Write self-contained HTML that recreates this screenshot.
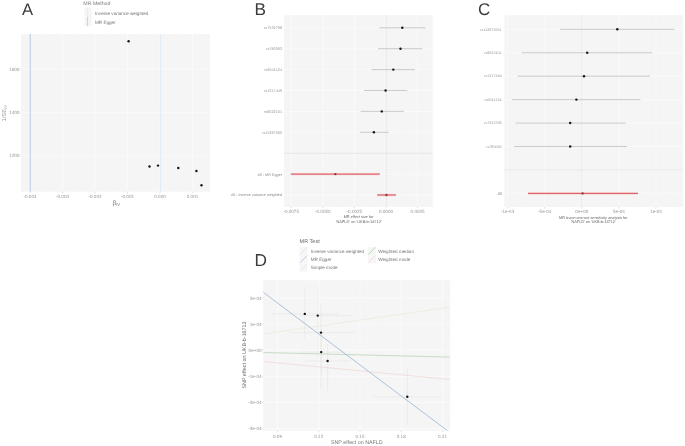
<!DOCTYPE html>
<html><head><meta charset="utf-8"><style>
html,body{margin:0;padding:0;background:#fff;}
body{width:685px;height:446px;overflow:hidden;}
svg{display:block;font-family:"Liberation Sans", sans-serif;text-rendering:geometricPrecision;filter:blur(0.5px);}
</style></head><body>
<svg width="685" height="446" viewBox="0 0 685 446">
<rect width="685" height="446" fill="#fff"/>
<text x="21.9" y="14.8" font-size="16.6" fill="#3C3C3C" text-anchor="start" >A</text>
<text x="83.3" y="5.1" font-size="5.26" fill="#787878" text-anchor="start" >MR Method</text>
<rect x="84.4" y="7.6" width="7.3" height="9.2" fill="#F5F5F5"/>
<rect x="84.4" y="16.9" width="7.3" height="9.2" fill="#F5F5F5"/>
<line x1="87.5" y1="7.6" x2="87.5" y2="16.8" stroke="#E2E9F0" stroke-width="0.6" />
<line x1="87.5" y1="16.9" x2="87.5" y2="26.1" stroke="#A7BDD6" stroke-width="0.6" />
<text x="95.0" y="15.0" font-size="4.6" fill="#777777" text-anchor="start" >Inverse variance weighted</text>
<text x="95.0" y="23.6" font-size="4.6" fill="#777777" text-anchor="start" >MR Egger</text>
<rect x="21.0" y="34.0" width="189.0" height="157.7" fill="#F5F5F5"/>
<line x1="46.25" y1="34.0" x2="46.25" y2="191.7" stroke="#F7F7F7" stroke-width="0.5" />
<line x1="78.75" y1="34.0" x2="78.75" y2="191.7" stroke="#F7F7F7" stroke-width="0.5" />
<line x1="111.25" y1="34.0" x2="111.25" y2="191.7" stroke="#F7F7F7" stroke-width="0.5" />
<line x1="143.75" y1="34.0" x2="143.75" y2="191.7" stroke="#F7F7F7" stroke-width="0.5" />
<line x1="176.25" y1="34.0" x2="176.25" y2="191.7" stroke="#F7F7F7" stroke-width="0.5" />
<line x1="21.0" y1="176.875" x2="210.0" y2="176.875" stroke="#F7F7F7" stroke-width="0.5" />
<line x1="21.0" y1="133.725" x2="210.0" y2="133.725" stroke="#F7F7F7" stroke-width="0.5" />
<line x1="21.0" y1="90.575" x2="210.0" y2="90.575" stroke="#F7F7F7" stroke-width="0.5" />
<line x1="21.0" y1="47.425" x2="210.0" y2="47.425" stroke="#F7F7F7" stroke-width="0.5" />
<line x1="30.0" y1="34.0" x2="30.0" y2="191.7" stroke="#FAFAFA" stroke-width="0.9" />
<line x1="62.5" y1="34.0" x2="62.5" y2="191.7" stroke="#FAFAFA" stroke-width="0.9" />
<line x1="95.0" y1="34.0" x2="95.0" y2="191.7" stroke="#FAFAFA" stroke-width="0.9" />
<line x1="127.5" y1="34.0" x2="127.5" y2="191.7" stroke="#FAFAFA" stroke-width="0.9" />
<line x1="160.0" y1="34.0" x2="160.0" y2="191.7" stroke="#FAFAFA" stroke-width="0.9" />
<line x1="192.5" y1="34.0" x2="192.5" y2="191.7" stroke="#FAFAFA" stroke-width="0.9" />
<line x1="21.0" y1="155.3" x2="210.0" y2="155.3" stroke="#FAFAFA" stroke-width="0.9" />
<line x1="21.0" y1="112.15" x2="210.0" y2="112.15" stroke="#FAFAFA" stroke-width="0.9" />
<line x1="21.0" y1="69.0" x2="210.0" y2="69.0" stroke="#FAFAFA" stroke-width="0.9" />
<line x1="160.6" y1="34.0" x2="160.6" y2="191.7" stroke="#DCE8F3" stroke-width="0.8" />
<line x1="30.2" y1="34.0" x2="30.2" y2="191.7" stroke="#A4C0DE" stroke-width="0.8" />
<circle cx="128.6" cy="41.3" r="1.2" fill="#151515"/>
<circle cx="149.5" cy="166.5" r="1.2" fill="#151515"/>
<circle cx="158.0" cy="165.6" r="1.2" fill="#151515"/>
<circle cx="178.3" cy="168.0" r="1.2" fill="#151515"/>
<circle cx="196.4" cy="171.0" r="1.2" fill="#151515"/>
<circle cx="201.5" cy="185.2" r="1.2" fill="#151515"/>
<line x1="30.0" y1="191.7" x2="30.0" y2="193.1" stroke="#AAAAAA" stroke-width="0.4" />
<text x="30.0" y="198.4" font-size="4.6" fill="#9A9A9A" text-anchor="middle" >-0.004</text>
<line x1="62.5" y1="191.7" x2="62.5" y2="193.1" stroke="#AAAAAA" stroke-width="0.4" />
<text x="62.5" y="198.4" font-size="4.6" fill="#9A9A9A" text-anchor="middle" >-0.003</text>
<line x1="95.0" y1="191.7" x2="95.0" y2="193.1" stroke="#AAAAAA" stroke-width="0.4" />
<text x="95.0" y="198.4" font-size="4.6" fill="#9A9A9A" text-anchor="middle" >-0.002</text>
<line x1="127.5" y1="191.7" x2="127.5" y2="193.1" stroke="#AAAAAA" stroke-width="0.4" />
<text x="127.5" y="198.4" font-size="4.6" fill="#9A9A9A" text-anchor="middle" >-0.001</text>
<line x1="160.0" y1="191.7" x2="160.0" y2="193.1" stroke="#AAAAAA" stroke-width="0.4" />
<text x="160.0" y="198.4" font-size="4.6" fill="#9A9A9A" text-anchor="middle" >0.000</text>
<line x1="192.5" y1="191.7" x2="192.5" y2="193.1" stroke="#AAAAAA" stroke-width="0.4" />
<text x="192.5" y="198.4" font-size="4.6" fill="#9A9A9A" text-anchor="middle" >0.001</text>
<line x1="19.6" y1="155.3" x2="21.0" y2="155.3" stroke="#AAAAAA" stroke-width="0.4" />
<text x="19.4" y="156.9" font-size="4.6" fill="#9A9A9A" text-anchor="end" >1200</text>
<line x1="19.6" y1="112.15" x2="21.0" y2="112.15" stroke="#AAAAAA" stroke-width="0.4" />
<text x="19.4" y="113.75" font-size="4.6" fill="#9A9A9A" text-anchor="end" >1400</text>
<line x1="19.6" y1="69.0" x2="21.0" y2="69.0" stroke="#AAAAAA" stroke-width="0.4" />
<text x="19.4" y="70.6" font-size="4.6" fill="#9A9A9A" text-anchor="end" >1600</text>
<text x="112.4" y="204.7" font-size="6.5" fill="#777777" text-anchor="start" >β<tspan font-size="4.3" dy="1.2">IV</tspan></text>
<text transform="translate(6.1,113.3) rotate(-90)" font-size="5.8" fill="#9A9A9A" text-anchor="middle">1/SE<tspan font-size="4" dy="1.1">IV</tspan></text>
<text x="254.4" y="15.0" font-size="17.2" fill="#3C3C3C" text-anchor="start" >B</text>
<rect x="284.0" y="15.2" width="148.7" height="191.70000000000002" fill="#F5F5F5"/>
<line x1="307.0" y1="15.2" x2="307.0" y2="206.9" stroke="#F7F7F7" stroke-width="0.5" />
<line x1="338.6" y1="15.2" x2="338.6" y2="206.9" stroke="#F7F7F7" stroke-width="0.5" />
<line x1="370.2" y1="15.2" x2="370.2" y2="206.9" stroke="#F7F7F7" stroke-width="0.5" />
<line x1="401.8" y1="15.2" x2="401.8" y2="206.9" stroke="#F7F7F7" stroke-width="0.5" />
<line x1="433.4" y1="15.2" x2="433.4" y2="206.9" stroke="#F7F7F7" stroke-width="0.5" />
<line x1="291.2" y1="15.2" x2="291.2" y2="206.9" stroke="#FAFAFA" stroke-width="0.9" />
<line x1="322.8" y1="15.2" x2="322.8" y2="206.9" stroke="#FAFAFA" stroke-width="0.9" />
<line x1="354.4" y1="15.2" x2="354.4" y2="206.9" stroke="#FAFAFA" stroke-width="0.9" />
<line x1="386.0" y1="15.2" x2="386.0" y2="206.9" stroke="#FAFAFA" stroke-width="0.9" />
<line x1="417.6" y1="15.2" x2="417.6" y2="206.9" stroke="#FAFAFA" stroke-width="0.9" />
<line x1="284.0" y1="27.8" x2="432.7" y2="27.8" stroke="#FAFAFA" stroke-width="0.9" />
<line x1="284.0" y1="48.7" x2="432.7" y2="48.7" stroke="#FAFAFA" stroke-width="0.9" />
<line x1="284.0" y1="69.6" x2="432.7" y2="69.6" stroke="#FAFAFA" stroke-width="0.9" />
<line x1="284.0" y1="90.5" x2="432.7" y2="90.5" stroke="#FAFAFA" stroke-width="0.9" />
<line x1="284.0" y1="111.39999999999999" x2="432.7" y2="111.39999999999999" stroke="#FAFAFA" stroke-width="0.9" />
<line x1="284.0" y1="132.3" x2="432.7" y2="132.3" stroke="#FAFAFA" stroke-width="0.9" />
<line x1="284.0" y1="153.2" x2="432.7" y2="153.2" stroke="#FAFAFA" stroke-width="0.9" />
<line x1="284.0" y1="174.1" x2="432.7" y2="174.1" stroke="#FAFAFA" stroke-width="0.9" />
<line x1="284.0" y1="195.0" x2="432.7" y2="195.0" stroke="#FAFAFA" stroke-width="0.9" />
<line x1="284.0" y1="153.2" x2="432.7" y2="153.2" stroke="#D6D6D6" stroke-width="0.6" />
<line x1="386.3" y1="15.2" x2="386.3" y2="206.9" stroke="#BBBBBB" stroke-width="0.45" stroke-dasharray="0.8 0.8"/>
<line x1="379.3" y1="27.8" x2="425.6" y2="27.8" stroke="#ABABAB" stroke-width="0.6" />
<circle cx="402.3" cy="27.8" r="1.2" fill="#151515"/>
<text x="282.0" y="29.150000000000002" font-size="3.8" fill="#9A9A9A" text-anchor="end" >rs7532798</text>
<line x1="378.0" y1="48.7" x2="422.3" y2="48.7" stroke="#ABABAB" stroke-width="0.6" />
<circle cx="400.5" cy="48.7" r="1.2" fill="#151515"/>
<text x="282.0" y="50.050000000000004" font-size="3.8" fill="#9A9A9A" text-anchor="end" >rs780093</text>
<line x1="371.6" y1="69.6" x2="415.0" y2="69.6" stroke="#ABABAB" stroke-width="0.6" />
<circle cx="393.3" cy="69.6" r="1.2" fill="#151515"/>
<text x="282.0" y="70.94999999999999" font-size="3.8" fill="#9A9A9A" text-anchor="end" >rs6541124</text>
<line x1="364.0" y1="90.5" x2="407.3" y2="90.5" stroke="#ABABAB" stroke-width="0.6" />
<circle cx="385.6" cy="90.5" r="1.2" fill="#151515"/>
<text x="282.0" y="91.85" font-size="3.8" fill="#9A9A9A" text-anchor="end" >rs1317449</text>
<line x1="360.6" y1="111.39999999999999" x2="403.8" y2="111.39999999999999" stroke="#ABABAB" stroke-width="0.6" />
<circle cx="381.8" cy="111.39999999999999" r="1.2" fill="#151515"/>
<text x="282.0" y="112.74999999999999" font-size="3.8" fill="#9A9A9A" text-anchor="end" >rs8022101</text>
<line x1="360.0" y1="132.3" x2="388.6" y2="132.3" stroke="#ABABAB" stroke-width="0.6" />
<circle cx="373.9" cy="132.3" r="1.2" fill="#151515"/>
<text x="282.0" y="133.65" font-size="3.8" fill="#9A9A9A" text-anchor="end" >rs11287560</text>
<line x1="290.9" y1="174.1" x2="379.7" y2="174.1" stroke="#F6D0D2" stroke-width="2.4" />
<line x1="290.9" y1="174.1" x2="379.7" y2="174.1" stroke="#D9555A" stroke-width="1.0" />
<circle cx="335.3" cy="174.1" r="1.2" fill="#8E3A3E"/>
<line x1="377.2" y1="195.0" x2="395.9" y2="195.0" stroke="#F6D0D2" stroke-width="2.4" />
<line x1="377.2" y1="195.0" x2="395.9" y2="195.0" stroke="#D9555A" stroke-width="1.0" />
<circle cx="386.4" cy="195.0" r="1.2" fill="#8E3A3E"/>
<text x="282.0" y="175.5" font-size="3.76" fill="#8A8A8A" text-anchor="end" >All - MR Egger</text>
<text x="282.0" y="196.4" font-size="3.76" fill="#8A8A8A" text-anchor="end" >All - Inverse variance weighted</text>
<line x1="291.2" y1="206.9" x2="291.2" y2="208.3" stroke="#AAAAAA" stroke-width="0.4" />
<text x="291.2" y="213.4" font-size="4.6" fill="#9A9A9A" text-anchor="middle" >-0.0075</text>
<line x1="322.8" y1="206.9" x2="322.8" y2="208.3" stroke="#AAAAAA" stroke-width="0.4" />
<text x="322.8" y="213.4" font-size="4.6" fill="#9A9A9A" text-anchor="middle" >-0.0050</text>
<line x1="354.4" y1="206.9" x2="354.4" y2="208.3" stroke="#AAAAAA" stroke-width="0.4" />
<text x="354.4" y="213.4" font-size="4.6" fill="#9A9A9A" text-anchor="middle" >-0.0025</text>
<line x1="386.0" y1="206.9" x2="386.0" y2="208.3" stroke="#AAAAAA" stroke-width="0.4" />
<text x="386.0" y="213.4" font-size="4.6" fill="#9A9A9A" text-anchor="middle" >0.0000</text>
<line x1="417.6" y1="206.9" x2="417.6" y2="208.3" stroke="#AAAAAA" stroke-width="0.4" />
<text x="417.6" y="213.4" font-size="4.6" fill="#9A9A9A" text-anchor="middle" >0.0025</text>
<text x="358.6" y="218.4" font-size="3.85" fill="#666666" text-anchor="middle" >MR effect size for</text>
<text x="358.7" y="222.5" font-size="3.9" fill="#666666" text-anchor="middle" >'NAFLD' on 'UKB-b-16712'</text>
<text x="478.0" y="14.85" font-size="17" fill="#3C3C3C" text-anchor="start" >C</text>
<rect x="504.4" y="15.2" width="178.70000000000005" height="191.9" fill="#F5F5F5"/>
<line x1="526.15" y1="15.2" x2="526.15" y2="207.1" stroke="#F7F7F7" stroke-width="0.5" />
<line x1="563.25" y1="15.2" x2="563.25" y2="207.1" stroke="#F7F7F7" stroke-width="0.5" />
<line x1="600.3499999999999" y1="15.2" x2="600.3499999999999" y2="207.1" stroke="#F7F7F7" stroke-width="0.5" />
<line x1="637.4499999999999" y1="15.2" x2="637.4499999999999" y2="207.1" stroke="#F7F7F7" stroke-width="0.5" />
<line x1="674.55" y1="15.2" x2="674.55" y2="207.1" stroke="#F7F7F7" stroke-width="0.5" />
<line x1="507.59999999999997" y1="15.2" x2="507.59999999999997" y2="207.1" stroke="#FAFAFA" stroke-width="0.9" />
<line x1="544.6999999999999" y1="15.2" x2="544.6999999999999" y2="207.1" stroke="#FAFAFA" stroke-width="0.9" />
<line x1="581.8" y1="15.2" x2="581.8" y2="207.1" stroke="#FAFAFA" stroke-width="0.9" />
<line x1="618.9" y1="15.2" x2="618.9" y2="207.1" stroke="#FAFAFA" stroke-width="0.9" />
<line x1="656.0" y1="15.2" x2="656.0" y2="207.1" stroke="#FAFAFA" stroke-width="0.9" />
<line x1="504.4" y1="29.3" x2="683.1" y2="29.3" stroke="#FAFAFA" stroke-width="0.9" />
<line x1="504.4" y1="52.74" x2="683.1" y2="52.74" stroke="#FAFAFA" stroke-width="0.9" />
<line x1="504.4" y1="76.18" x2="683.1" y2="76.18" stroke="#FAFAFA" stroke-width="0.9" />
<line x1="504.4" y1="99.62" x2="683.1" y2="99.62" stroke="#FAFAFA" stroke-width="0.9" />
<line x1="504.4" y1="123.06" x2="683.1" y2="123.06" stroke="#FAFAFA" stroke-width="0.9" />
<line x1="504.4" y1="146.5" x2="683.1" y2="146.5" stroke="#FAFAFA" stroke-width="0.9" />
<line x1="504.4" y1="169.94000000000003" x2="683.1" y2="169.94000000000003" stroke="#FAFAFA" stroke-width="0.9" />
<line x1="504.4" y1="193.38000000000002" x2="683.1" y2="193.38000000000002" stroke="#FAFAFA" stroke-width="0.9" />
<line x1="504.4" y1="169.94000000000003" x2="683.1" y2="169.94000000000003" stroke="#DDDDDD" stroke-width="0.6" />
<line x1="581.7" y1="15.2" x2="581.7" y2="207.1" stroke="#BBBBBB" stroke-width="0.45" stroke-dasharray="0.8 0.8"/>
<line x1="560.1" y1="29.3" x2="674.6" y2="29.3" stroke="#ABABAB" stroke-width="0.6" />
<circle cx="617.3" cy="29.3" r="1.2" fill="#151515"/>
<text x="501.6" y="30.6" font-size="3.7" fill="#9A9A9A" text-anchor="end" >rs112875651</text>
<line x1="521.9" y1="52.74" x2="652.2" y2="52.74" stroke="#ABABAB" stroke-width="0.6" />
<circle cx="587.2" cy="52.74" r="1.2" fill="#151515"/>
<text x="501.6" y="54.04" font-size="3.7" fill="#9A9A9A" text-anchor="end" >rs8022101</text>
<line x1="517.6" y1="76.18" x2="649.9" y2="76.18" stroke="#ABABAB" stroke-width="0.6" />
<circle cx="584.0" cy="76.18" r="1.2" fill="#151515"/>
<text x="501.6" y="77.48" font-size="3.7" fill="#9A9A9A" text-anchor="end" >rs1317449</text>
<line x1="512.2" y1="99.62" x2="640.4" y2="99.62" stroke="#ABABAB" stroke-width="0.6" />
<circle cx="576.4" cy="99.62" r="1.2" fill="#151515"/>
<text x="501.6" y="100.92" font-size="3.7" fill="#9A9A9A" text-anchor="end" >rs6541124</text>
<line x1="515.4" y1="123.06" x2="625.6" y2="123.06" stroke="#ABABAB" stroke-width="0.6" />
<circle cx="570.2" cy="123.06" r="1.2" fill="#151515"/>
<text x="501.6" y="124.36" font-size="3.7" fill="#9A9A9A" text-anchor="end" >rs7532798</text>
<line x1="514.0" y1="146.5" x2="627.0" y2="146.5" stroke="#ABABAB" stroke-width="0.6" />
<circle cx="570.2" cy="146.5" r="1.2" fill="#151515"/>
<text x="501.6" y="147.8" font-size="3.7" fill="#9A9A9A" text-anchor="end" >rs780093</text>
<line x1="528.0" y1="193.38000000000002" x2="638.0" y2="193.38000000000002" stroke="#F6D0D2" stroke-width="2.4" />
<line x1="528.0" y1="193.38000000000002" x2="638.0" y2="193.38000000000002" stroke="#D9555A" stroke-width="1.0" />
<circle cx="582.6" cy="193.38000000000002" r="1.2" fill="#8E3A3E"/>
<text x="502.0" y="194.78000000000003" font-size="4.0" fill="#8A8A8A" text-anchor="end" >All</text>
<line x1="507.59999999999997" y1="207.1" x2="507.59999999999997" y2="208.5" stroke="#AAAAAA" stroke-width="0.4" />
<text x="507.59999999999997" y="213.4" font-size="4.6" fill="#9A9A9A" text-anchor="middle" >-1e-03</text>
<line x1="544.6999999999999" y1="207.1" x2="544.6999999999999" y2="208.5" stroke="#AAAAAA" stroke-width="0.4" />
<text x="544.6999999999999" y="213.4" font-size="4.6" fill="#9A9A9A" text-anchor="middle" >-5e-04</text>
<line x1="581.8" y1="207.1" x2="581.8" y2="208.5" stroke="#AAAAAA" stroke-width="0.4" />
<text x="581.8" y="213.4" font-size="4.6" fill="#9A9A9A" text-anchor="middle" >0e+00</text>
<line x1="618.9" y1="207.1" x2="618.9" y2="208.5" stroke="#AAAAAA" stroke-width="0.4" />
<text x="618.9" y="213.4" font-size="4.6" fill="#9A9A9A" text-anchor="middle" >5e-04</text>
<line x1="656.0" y1="207.1" x2="656.0" y2="208.5" stroke="#AAAAAA" stroke-width="0.4" />
<text x="656.0" y="213.4" font-size="4.6" fill="#9A9A9A" text-anchor="middle" >1e-03</text>
<text x="593.2" y="218.5" font-size="3.83" fill="#666666" text-anchor="middle" >MR leave-one-out sensitivity analysis for</text>
<text x="593.2" y="222.6" font-size="3.83" fill="#666666" text-anchor="middle" >'NAFLD' on 'UKB-b-16712'</text>
<text x="254.5" y="265.9" font-size="17.3" fill="#3C3C3C" text-anchor="start" >D</text>
<text x="299.6" y="243.2" font-size="5.5" fill="#6A6A6A" text-anchor="start" >MR Test</text>
<rect x="299.5" y="246.8" width="8.2" height="8.2" fill="#F7F7F7"/>
<line x1="300.2" y1="254.5" x2="307.0" y2="247.3" stroke="#C6DDEC" stroke-width="0.6" />
<text x="310.8" y="252.5" font-size="4.6" fill="#777777" text-anchor="start" >Inverse variance weighted</text>
<rect x="299.5" y="255.1" width="8.2" height="8.2" fill="#F7F7F7"/>
<line x1="300.2" y1="262.8" x2="307.0" y2="255.6" stroke="#8FB3D6" stroke-width="0.6" />
<text x="310.8" y="260.8" font-size="4.6" fill="#777777" text-anchor="start" >MR Egger</text>
<rect x="299.5" y="263.5" width="8.2" height="8.2" fill="#F7F7F7"/>
<line x1="300.2" y1="271.20000000000005" x2="307.0" y2="264.0" stroke="#D8E9C6" stroke-width="0.6" />
<text x="310.8" y="269.20000000000005" font-size="4.6" fill="#777777" text-anchor="start" >Simple mode</text>
<rect x="367.8" y="246.8" width="8.2" height="8.2" fill="#F7F7F7"/>
<line x1="368.5" y1="254.5" x2="375.3" y2="247.3" stroke="#8CC78A" stroke-width="0.6" />
<text x="378.3" y="252.5" font-size="4.6" fill="#777777" text-anchor="start" >Weighted median</text>
<rect x="367.8" y="255.1" width="8.2" height="8.2" fill="#F7F7F7"/>
<line x1="368.5" y1="262.8" x2="375.3" y2="255.6" stroke="#F3C5C4" stroke-width="0.6" />
<text x="378.3" y="260.8" font-size="4.6" fill="#777777" text-anchor="start" >Weighted mode</text>
<rect x="263.2" y="280.2" width="187.0" height="150.60000000000002" fill="#F5F5F5"/>
<line x1="298.125" y1="280.2" x2="298.125" y2="430.8" stroke="#F7F7F7" stroke-width="0.5" />
<line x1="339.375" y1="280.2" x2="339.375" y2="430.8" stroke="#F7F7F7" stroke-width="0.5" />
<line x1="380.625" y1="280.2" x2="380.625" y2="430.8" stroke="#F7F7F7" stroke-width="0.5" />
<line x1="421.875" y1="280.2" x2="421.875" y2="430.8" stroke="#F7F7F7" stroke-width="0.5" />
<line x1="263.2" y1="311.02" x2="450.2" y2="311.02" stroke="#F7F7F7" stroke-width="0.5" />
<line x1="263.2" y1="337.14" x2="450.2" y2="337.14" stroke="#F7F7F7" stroke-width="0.5" />
<line x1="263.2" y1="363.26" x2="450.2" y2="363.26" stroke="#F7F7F7" stroke-width="0.5" />
<line x1="263.2" y1="389.38" x2="450.2" y2="389.38" stroke="#F7F7F7" stroke-width="0.5" />
<line x1="263.2" y1="415.5" x2="450.2" y2="415.5" stroke="#F7F7F7" stroke-width="0.5" />
<line x1="277.5" y1="280.2" x2="277.5" y2="430.8" stroke="#FAFAFA" stroke-width="0.9" />
<line x1="318.75" y1="280.2" x2="318.75" y2="430.8" stroke="#FAFAFA" stroke-width="0.9" />
<line x1="360.0" y1="280.2" x2="360.0" y2="430.8" stroke="#FAFAFA" stroke-width="0.9" />
<line x1="401.25" y1="280.2" x2="401.25" y2="430.8" stroke="#FAFAFA" stroke-width="0.9" />
<line x1="442.5" y1="280.2" x2="442.5" y2="430.8" stroke="#FAFAFA" stroke-width="0.9" />
<line x1="263.2" y1="297.96" x2="450.2" y2="297.96" stroke="#FAFAFA" stroke-width="0.9" />
<line x1="263.2" y1="324.08" x2="450.2" y2="324.08" stroke="#FAFAFA" stroke-width="0.9" />
<line x1="263.2" y1="350.2" x2="450.2" y2="350.2" stroke="#FAFAFA" stroke-width="0.9" />
<line x1="263.2" y1="376.32" x2="450.2" y2="376.32" stroke="#FAFAFA" stroke-width="0.9" />
<line x1="263.2" y1="402.44" x2="450.2" y2="402.44" stroke="#FAFAFA" stroke-width="0.9" />
<line x1="263.2" y1="428.55999999999995" x2="450.2" y2="428.55999999999995" stroke="#FAFAFA" stroke-width="0.9" />
<clipPath id="cd"><rect x="263.2" y="280.2" width="187.0" height="150.60000000000002"/></clipPath>
<g clip-path="url(#cd)">
<line x1="304.8" y1="287.4" x2="304.8" y2="339.0" stroke="#E2E2E2" stroke-width="0.45" />
<line x1="317.7" y1="287.4" x2="317.7" y2="357.0" stroke="#E2E2E2" stroke-width="0.45" />
<line x1="321.0" y1="303.6" x2="321.0" y2="389.0" stroke="#E2E2E2" stroke-width="0.45" />
<line x1="321.2" y1="330.0" x2="321.2" y2="375.0" stroke="#E2E2E2" stroke-width="0.45" />
<line x1="327.6" y1="344.0" x2="327.6" y2="391.0" stroke="#E2E2E2" stroke-width="0.45" />
<line x1="407.3" y1="368.2" x2="407.3" y2="424.7" stroke="#E2E2E2" stroke-width="0.45" />
<line x1="271.7" y1="313.9" x2="338.5" y2="313.9" stroke="#E2E2E2" stroke-width="0.45" />
<line x1="300.0" y1="315.6" x2="352.5" y2="315.6" stroke="#E2E2E2" stroke-width="0.45" />
<line x1="288.5" y1="332.6" x2="354.6" y2="332.6" stroke="#E2E2E2" stroke-width="0.45" />
<line x1="300.0" y1="352.1" x2="345.0" y2="352.1" stroke="#E2E2E2" stroke-width="0.45" />
<line x1="305.0" y1="361.0" x2="350.0" y2="361.0" stroke="#E2E2E2" stroke-width="0.45" />
<line x1="373.0" y1="396.8" x2="441.6" y2="396.8" stroke="#E2E2E2" stroke-width="0.45" />
<line x1="263.3" y1="334.0" x2="450.0" y2="307.2" stroke="#E6EBD8" stroke-width="0.7" />
<line x1="263.2" y1="352.5" x2="450.2" y2="357.1" stroke="#B6D3B3" stroke-width="0.75" />
<line x1="263.3" y1="361.5" x2="450.0" y2="379.5" stroke="#F0D6D4" stroke-width="0.7" />
<line x1="263.2" y1="292.2" x2="447.6" y2="430.8" stroke="#A3BCD7" stroke-width="0.9" />
</g>
<circle cx="304.8" cy="313.9" r="1.2" fill="#151515"/>
<circle cx="317.8" cy="315.6" r="1.2" fill="#151515"/>
<circle cx="321.0" cy="332.6" r="1.2" fill="#151515"/>
<circle cx="321.2" cy="352.1" r="1.2" fill="#151515"/>
<circle cx="327.6" cy="361.0" r="1.2" fill="#151515"/>
<circle cx="407.3" cy="396.8" r="1.2" fill="#151515"/>
<line x1="277.5" y1="430.8" x2="277.5" y2="432.2" stroke="#AAAAAA" stroke-width="0.4" />
<text x="277.5" y="437.8" font-size="4.6" fill="#9A9A9A" text-anchor="middle" >0.09</text>
<line x1="318.75" y1="430.8" x2="318.75" y2="432.2" stroke="#AAAAAA" stroke-width="0.4" />
<text x="318.75" y="437.8" font-size="4.6" fill="#9A9A9A" text-anchor="middle" >0.12</text>
<line x1="360.0" y1="430.8" x2="360.0" y2="432.2" stroke="#AAAAAA" stroke-width="0.4" />
<text x="360.0" y="437.8" font-size="4.6" fill="#9A9A9A" text-anchor="middle" >0.15</text>
<line x1="401.25" y1="430.8" x2="401.25" y2="432.2" stroke="#AAAAAA" stroke-width="0.4" />
<text x="401.25" y="437.8" font-size="4.6" fill="#9A9A9A" text-anchor="middle" >0.18</text>
<line x1="442.5" y1="430.8" x2="442.5" y2="432.2" stroke="#AAAAAA" stroke-width="0.4" />
<text x="442.5" y="437.8" font-size="4.6" fill="#9A9A9A" text-anchor="middle" >0.21</text>
<line x1="261.8" y1="297.96" x2="263.2" y2="297.96" stroke="#AAAAAA" stroke-width="0.4" />
<text x="261.5" y="299.56" font-size="4.6" fill="#9A9A9A" text-anchor="end" >2e-04</text>
<line x1="261.8" y1="324.08" x2="263.2" y2="324.08" stroke="#AAAAAA" stroke-width="0.4" />
<text x="261.5" y="325.68" font-size="4.6" fill="#9A9A9A" text-anchor="end" >1e-04</text>
<line x1="261.8" y1="350.2" x2="263.2" y2="350.2" stroke="#AAAAAA" stroke-width="0.4" />
<text x="261.5" y="351.8" font-size="4.6" fill="#9A9A9A" text-anchor="end" >0e+00</text>
<line x1="261.8" y1="376.32" x2="263.2" y2="376.32" stroke="#AAAAAA" stroke-width="0.4" />
<text x="261.5" y="377.92" font-size="4.6" fill="#9A9A9A" text-anchor="end" >-1e-04</text>
<line x1="261.8" y1="402.44" x2="263.2" y2="402.44" stroke="#AAAAAA" stroke-width="0.4" />
<text x="261.5" y="404.04" font-size="4.6" fill="#9A9A9A" text-anchor="end" >-2e-04</text>
<line x1="261.8" y1="428.55999999999995" x2="263.2" y2="428.55999999999995" stroke="#AAAAAA" stroke-width="0.4" />
<text x="261.5" y="430.15999999999997" font-size="4.6" fill="#9A9A9A" text-anchor="end" >-3e-04</text>
<text x="356.8" y="444.2" font-size="5.33" fill="#777777" text-anchor="middle" >SNP effect on NAFLD</text>
<text transform="translate(245.6,355.0) rotate(-90)" font-size="5.4" fill="#6E6E6E" text-anchor="middle">SNP effect on UKB-b-16713</text>
</svg>
</body></html>
